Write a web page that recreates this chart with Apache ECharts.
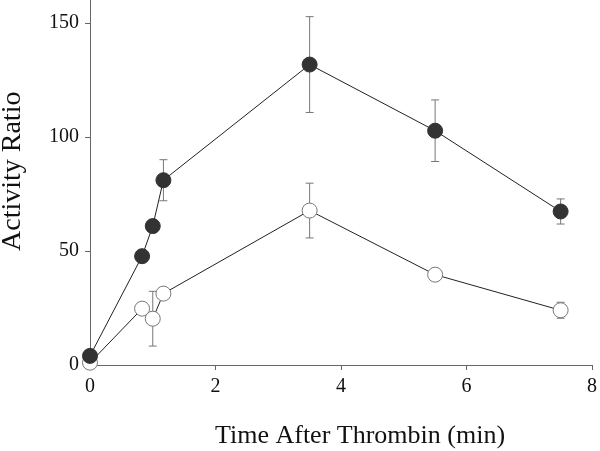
<!DOCTYPE html>
<html>
<head>
<meta charset="utf-8">
<script src="https://cdn.jsdelivr.net/npm/echarts@6/dist/echarts.min.js"></script>
<style>html,body{margin:0;padding:0;background:#fff}#c{width:600px;height:451px}</style>
</head>
<body>
<div id="c"></div>
<script>
const timeMin = [0, 0.83, 1.0, 1.17, 3.5, 5.5, 7.5];
const filledVals = [4, 47.7, 60.9, 81, 131.7, 102.7, 67.3];
const filledErr = [0, 0, 0, 9, 21, 13.5, 5.5];
const openVals = [1, 24.7, 20.3, 31.3, 67.7, 39.6, 24];
const openErr = [0, 0, 12, 0, 12, 2.5, 3.5];
const xTicks = [0, 2, 4, 6, 8];
const yTicks = [0, 50, 100, 150];

const font = '"Liberation Serif", "Times New Roman", serif';
const chart = echarts.init(document.getElementById('c'));

function pts(xs, ys) { return xs.map((x, i) => [x, ys[i]]); }
function errData(xs, ys, es) { return xs.map((x, i) => [x, ys[i] - es[i], ys[i] + es[i]]).filter((d, i) => es[i] > 0); }

function errRender(params, api) {
  const x = api.value(0);
  const lo = api.coord([x, api.value(1)]);
  const hi = api.coord([x, api.value(2)]);
  const w = 4;
  const st = { stroke: '#777', lineWidth: 1 };
  return {
    type: 'group',
    children: [
      { type: 'line', shape: { x1: lo[0], y1: lo[1], x2: hi[0], y2: hi[1] }, style: st },
      { type: 'line', shape: { x1: lo[0] - w, y1: lo[1], x2: lo[0] + w, y2: lo[1] }, style: st },
      { type: 'line', shape: { x1: hi[0] - w, y1: hi[1], x2: hi[0] + w, y2: hi[1] }, style: st }
    ]
  };
}

chart.setOption({
  animation: false,
  backgroundColor: '#fff',
  grid: { left: 90, right: 4, top: 0, bottom: 86 },
  xAxis: {
    type: 'value', min: 0, max: 8, interval: 2,
    axisLine: { lineStyle: { color: '#666', width: 1 } },
    axisTick: { show: true, length: 5, lineStyle: { color: '#666' } },
    axisLabel: { color: '#111', fontFamily: font, fontSize: 20, margin: 12, customValues: xTicks },
    splitLine: { show: false }
  },
  yAxis: {
    type: 'value', min: 0, max: 160,
    axisLine: { show: true, lineStyle: { color: '#666', width: 1 } },
    axisTick: { show: true, length: 5, lineStyle: { color: '#666' }, customValues: yTicks },
    axisLabel: { color: '#111', fontFamily: font, fontSize: 20, margin: 11, customValues: yTicks },
    splitLine: { show: false }
  },
  graphic: [
    { type: 'text', left: 215, top: 423, style: { text: 'Time After Thrombin (min)', font: '26px ' + font, fill: '#111' } },
    { type: 'text', x: -1, y: 251, rotation: Math.PI / 2, style: { text: 'Activity Ratio', font: '28px ' + font, fill: '#111', align: 'left', verticalAlign: 'top' } }
  ],
  series: [
    { type: 'custom', renderItem: errRender, data: errData(timeMin, openVals, openErr), z: 1, encode: { x: 0, y: [1, 2] } },
    { type: 'custom', renderItem: errRender, data: errData(timeMin, filledVals, filledErr), z: 1, encode: { x: 0, y: [1, 2] } },
    {
      type: 'line', data: pts(timeMin, openVals), z: 3,
      lineStyle: { color: '#222', width: 1 },
      symbol: 'circle', symbolSize: 15,
      itemStyle: { color: '#fff', borderColor: '#777', borderWidth: 1 }
    },
    {
      type: 'line', data: pts(timeMin, filledVals), z: 4,
      lineStyle: { color: '#222', width: 1 },
      symbol: 'circle', symbolSize: 15,
      itemStyle: { color: '#333', borderColor: '#333', borderWidth: 1 }
    }
  ]
});
</script>
</body>
</html>
